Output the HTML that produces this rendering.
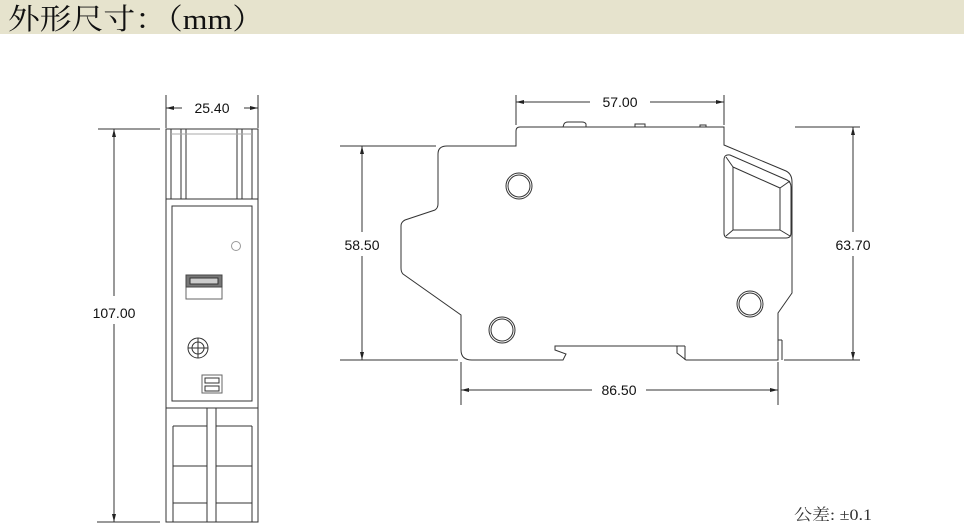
<!DOCTYPE html>
<html><head><meta charset="utf-8"><style>
html,body{margin:0;padding:0;background:#fff;width:964px;height:523px;overflow:hidden}
</style></head><body>
<svg width="964" height="523" xmlns="http://www.w3.org/2000/svg" font-family="Liberation Sans, sans-serif">
<rect x="0" y="0" width="964" height="34" fill="#e6e3cd"/>
<text x="8" y="29" font-family="Liberation Serif, Noto Serif CJK SC, serif" font-size="29" fill="#111" textLength="256" lengthAdjust="spacingAndGlyphs">外形尺寸：（mm）</text>
<g stroke="#333" stroke-width="1" fill="none">
<rect x="166" y="129" width="92" height="393"/>
<line x1="171" y1="129" x2="171" y2="199"/><line x1="181" y1="129" x2="181" y2="199"/><line x1="186" y1="129" x2="186" y2="199"/>
<line x1="237" y1="129" x2="237" y2="199"/><line x1="242" y1="129" x2="242" y2="199"/><line x1="252" y1="129" x2="252" y2="199"/>
<line x1="171" y1="134" x2="252" y2="134" stroke="#aaa"/>
<line x1="166" y1="199" x2="258" y2="199"/>
<rect x="172" y="206" width="80" height="195"/>
<circle cx="236" cy="246" r="4.5" stroke="#999"/>
<rect x="186" y="275" width="36" height="24" stroke="#666"/>
<rect x="186" y="275" width="36" height="12" fill="#777" stroke="#444"/>
<rect x="190" y="278" width="28" height="6" fill="#ccc" stroke="#333"/>
<circle cx="198" cy="348" r="10"/><circle cx="198" cy="348" r="6"/>
<line x1="188" y1="348" x2="208" y2="348"/><line x1="198" y1="338" x2="198" y2="358"/>
<rect x="202" y="375" width="20" height="18" stroke="#666"/>
<rect x="205" y="378" width="14" height="5"/><rect x="205" y="386" width="14" height="5"/>
<line x1="166" y1="408" x2="258" y2="408"/>
<line x1="207" y1="408" x2="207" y2="522"/><line x1="216" y1="408" x2="216" y2="522"/>
<line x1="173" y1="426" x2="173" y2="522"/><line x1="252" y1="426" x2="252" y2="522"/>
<line x1="173" y1="426" x2="207" y2="426"/><line x1="216" y1="426" x2="252" y2="426"/>
<line x1="173" y1="466" x2="207" y2="466"/><line x1="216" y1="466" x2="252" y2="466"/>
<line x1="173" y1="503" x2="207" y2="503"/><line x1="216" y1="503" x2="252" y2="503"/>
<line x1="166" y1="95" x2="166" y2="128"/><line x1="258" y1="95" x2="258" y2="128"/>
<line x1="166" y1="108" x2="182" y2="108"/><line x1="244" y1="108" x2="258" y2="108"/>
<line x1="98" y1="129" x2="160" y2="129"/><line x1="97" y1="522" x2="160" y2="522"/>
<line x1="114" y1="129" x2="114" y2="296"/><line x1="114" y1="324" x2="114" y2="522"/>
<path d="M516,146 L516,131 Q516,127 520,127 L724,127 L724,145 L786,171 Q792,174 792,182 L792,293 L778,313 L778,360 L686,360 L677,353 L677,346 L685,346 L555,346 L555,350 L566,354 L563,360 L472,360 Q461,360 461,350 L461,315 L403,274 Q401,272 401,268 L401,226 Q401,222 405,220 L435,210 Q438,208 438,204 L438,154 Q438,146 447,146 Z"/>
<line x1="685" y1="346" x2="685" y2="360"/>
<line x1="778" y1="340" x2="782" y2="340"/><line x1="782" y1="340" x2="782" y2="360"/>
<path d="M563,127 L564,124 Q565,122 568,122 L582,122 Q585,122 586,124 L586,127"/>
<rect x="635" y="124" width="10" height="3"/><rect x="700" y="125" width="6" height="2"/>
<circle cx="519" cy="186" r="13"/><circle cx="519" cy="186" r="11"/>
<circle cx="502" cy="330" r="13"/><circle cx="502" cy="330" r="11"/>
<circle cx="750" cy="304" r="13"/><circle cx="750" cy="304" r="11"/>
<path d="M724,160 Q724,154 730,155 L787,180 Q791,182 791,187 L791,233 Q791,238 786,238 L729,238 Q724,238 724,233 Z"/>
<path d="M733,167 L780,188 L780,230 L733,230 Z"/>
<line x1="726" y1="157" x2="733" y2="167"/><line x1="790" y1="181" x2="780" y2="188"/>
<line x1="790" y1="236" x2="780" y2="230"/><line x1="726" y1="236" x2="733" y2="230"/>
<line x1="516" y1="95" x2="516" y2="125"/><line x1="724" y1="95" x2="724" y2="125"/>
<line x1="516" y1="102" x2="590" y2="102"/><line x1="650" y1="102" x2="724" y2="102"/>
<line x1="795" y1="127" x2="860" y2="127"/><line x1="784" y1="360" x2="860" y2="360"/>
<line x1="853" y1="127" x2="853" y2="232"/><line x1="853" y1="256" x2="853" y2="360"/>
<line x1="340" y1="146" x2="436" y2="146"/><line x1="340" y1="360" x2="458" y2="360"/>
<line x1="362" y1="146" x2="362" y2="232"/><line x1="362" y1="256" x2="362" y2="360"/>
<line x1="461" y1="362" x2="461" y2="405"/><line x1="778" y1="362" x2="778" y2="405"/>
<line x1="461" y1="390" x2="592" y2="390"/><line x1="646" y1="390" x2="778" y2="390"/>
</g>
<g fill="#222">
<path d="M166,108 l8,-2 v4z M258,108 l-8,-2 v4z M114,129 l-2,8 h4z M114,522 l-2,-8 h4z"/>
<path d="M516,102 l8,-2 v4z M724,102 l-8,-2 v4z M853,127 l-2,8 h4z M853,360 l-2,-8 h4z"/>
<path d="M362,146 l-2,8 h4z M362,360 l-2,-8 h4z M461,390 l8,-2 v4z M778,390 l-8,-2 v4z"/>
</g>
<g font-size="14" fill="#111" text-anchor="middle">
<text x="212" y="113">25.40</text>
<text x="114" y="318">107.00</text>
<text x="620" y="107">57.00</text>
<text x="853" y="250">63.70</text>
<text x="362" y="250">58.50</text>
<text x="619" y="395">86.50</text>
</g>
<text x="794" y="520" font-family="Liberation Serif, Noto Serif CJK SC, serif" font-size="16" fill="#333" textLength="78" lengthAdjust="spacingAndGlyphs">公差: ±0.1</text>
</svg>
</body></html>
